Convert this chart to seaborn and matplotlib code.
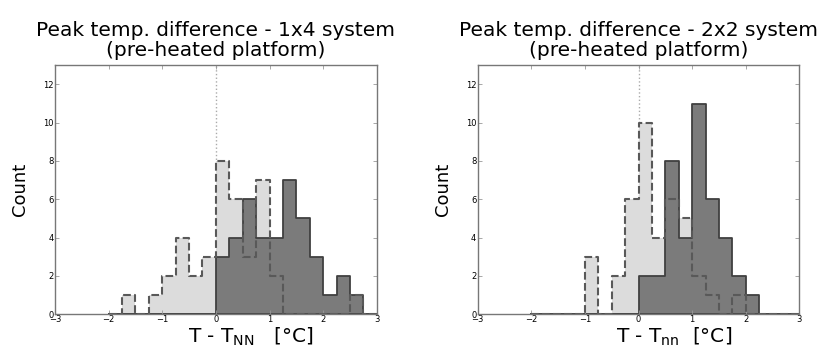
import numpy as np
import pandas as pd
import seaborn as sns
import matplotlib.pyplot as plt

# bin edges shared by all histograms (width 0.25 degC)
bin_edges = [-2.0, -1.75, -1.5, -1.25, -1.0, -0.75, -0.5, -0.25, 0.0, 0.25, 0.5,
             0.75, 1.0, 1.25, 1.5, 1.75, 2.0, 2.25, 2.5, 2.75, 3.0]

# counts, one per bin
counts_1x4_light = [0, 1, 0, 1, 2, 4, 2, 3, 8, 6, 3, 7, 2, 0, 0, 0, 0, 0, 1, 0]
counts_1x4_dark = [0, 0, 0, 0, 0, 0, 0, 0, 3, 4, 6, 4, 4, 7, 5, 3, 1, 2, 1, 0]
counts_2x2_light = [0, 0, 0, 0, 3, 0, 2, 6, 10, 4, 6, 5, 2, 1, 0, 1, 0, 0, 0, 0]
counts_2x2_dark = [0, 0, 0, 0, 0, 0, 0, 0, 2, 2, 8, 4, 11, 6, 4, 2, 1, 0, 0, 0]

titles = ['Peak temp. difference - 1x4 system\n(pre-heated platform)',
          'Peak temp. difference - 2x2 system\n(pre-heated platform)']
xlabels = ['T - T$_{\\mathregular{NN}}$   [°C]', 'T - T$_{\\mathregular{nn}}$  [°C]']

edges = np.array(bin_edges)
centers = (edges[:-1] + edges[1:]) / 2

fig = plt.figure(figsize=(8.25, 3.49), dpi=100)
axes = [fig.add_axes([0.0667, 0.100, 0.390, 0.713]),
        fig.add_axes([0.579, 0.100, 0.390, 0.713])]

panels = [(counts_1x4_light, counts_1x4_dark), (counts_2x2_light, counts_2x2_dark)]

for ax, (light, dark), title, xlab in zip(axes, panels, titles, xlabels):
    df = pd.DataFrame({'dT': centers, 'light': light, 'dark': dark})
    ax.axvline(0, color='#aaaaaa', linestyle=':', linewidth=1, zorder=0)
    # light fill
    sns.histplot(data=df, x='dT', weights='light', bins=bin_edges, element='step', fill=True,
                 color='#dcdcdc', alpha=1, linewidth=0, ax=ax)
    # dark histogram with solid edge
    sns.histplot(data=df, x='dT', weights='dark', bins=bin_edges, element='step', fill=True,
                 facecolor='#7b7b7b', edgecolor='#404040', alpha=1, linewidth=1.3, ax=ax)
    # dashed outline of the light histogram on top
    sns.histplot(data=df, x='dT', weights='light', bins=bin_edges, element='step', fill=False,
                 color='#595959', linestyle='--', linewidth=1.5, ax=ax)

    ax.set_xlim(-3, 3)
    ax.set_ylim(0, 13)
    ax.set_xticks([-3, -2, -1, 0, 1, 2, 3])
    ax.set_yticks([0, 2, 4, 6, 8, 10, 12])
    ax.tick_params(direction='in', top=True, right=True, length=3, width=0.6,
                   labelsize=6, colors='#999999', labelcolor='black', pad=1)
    for sp in ax.spines.values():
        sp.set_color('#777777')
        sp.set_linewidth(1)
    ax.set_title(title, fontsize=14.5, pad=7, linespacing=1.05)
    ax.set_xlabel(xlab, fontsize=14.5)
    ax.xaxis.set_label_coords(0.61, -0.045, transform=ax.transAxes)
    ax.xaxis.label.set_va('top')
    ax.set_ylabel('Count', fontsize=13, labelpad=10)

fig.savefig('out.png', dpi=100)
